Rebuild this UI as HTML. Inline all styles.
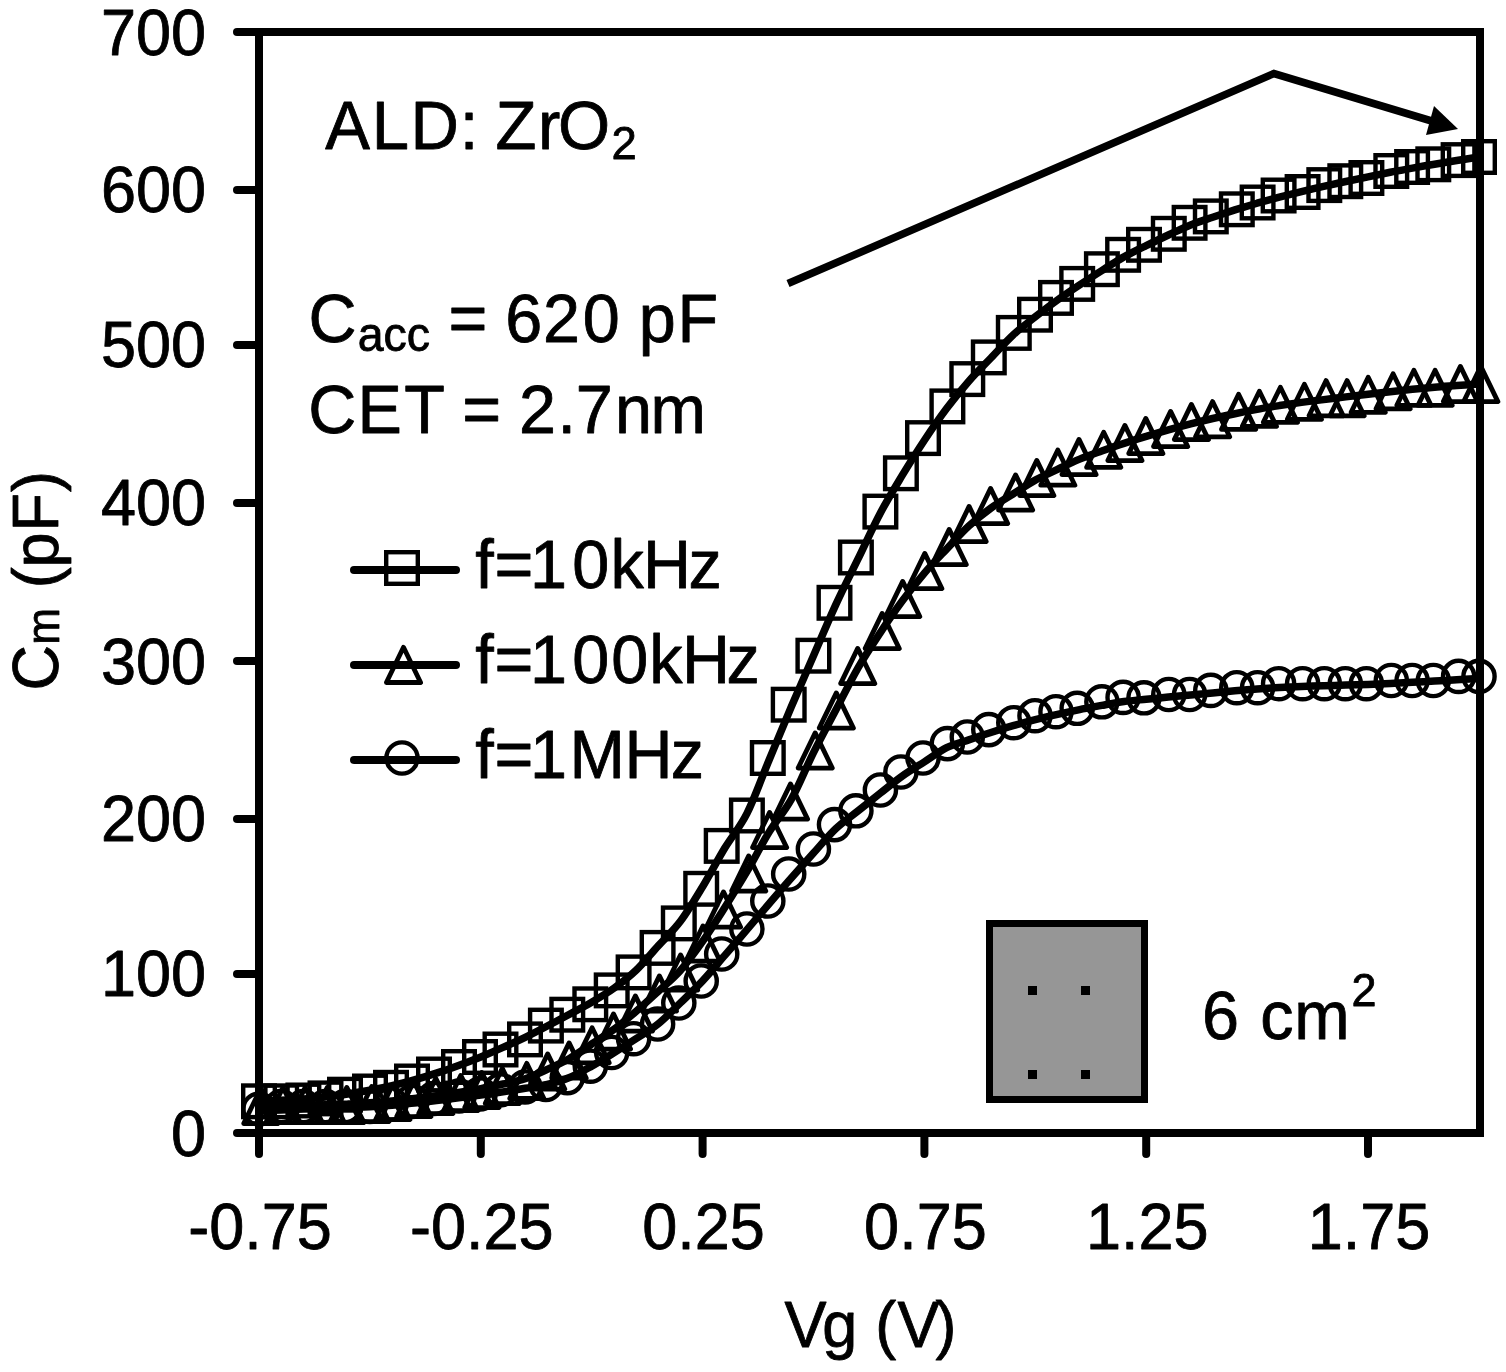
<!DOCTYPE html>
<html><head><meta charset="utf-8"><title>C-V</title>
<style>
html,body{margin:0;padding:0;background:#fff;}
svg{display:block;}
text{font-family:"Liberation Sans",Arial,sans-serif;fill:#000;stroke:#000;stroke-width:0.8;stroke-linejoin:round;}
.tk{stroke:#000;stroke-width:8;stroke-linecap:round;}
.tk2{stroke:#000;stroke-width:7;stroke-linecap:round;}
.ln{fill:none;stroke:#000;stroke-width:7.5;stroke-linejoin:round;}
.mk{fill:none;stroke:#000;stroke-width:4.4;}
.tri{stroke-width:4.8;stroke-linejoin:round;}
</style></head>
<body>
<svg width="1506" height="1372" viewBox="0 0 1506 1372">
<rect width="1506" height="1372" fill="#fff"/>
<rect x="259.0" y="32.0" width="1221.0" height="1101.0" fill="none" stroke="#000" stroke-width="8"/>
<line x1="237" y1="1133.0" x2="259.0" y2="1133.0" class="tk"/>
<line x1="237" y1="973.9" x2="259.0" y2="973.9" class="tk"/>
<line x1="237" y1="818.9" x2="259.0" y2="818.9" class="tk"/>
<line x1="237" y1="661.0" x2="259.0" y2="661.0" class="tk"/>
<line x1="237" y1="502.9" x2="259.0" y2="502.9" class="tk"/>
<line x1="237" y1="344.9" x2="259.0" y2="344.9" class="tk"/>
<line x1="237" y1="189.9" x2="259.0" y2="189.9" class="tk"/>
<line x1="237" y1="32.0" x2="259.0" y2="32.0" class="tk"/>
<line x1="259.0" y1="1133.0" x2="259.0" y2="1154" class="tk"/>
<line x1="480.8" y1="1133.0" x2="480.8" y2="1154" class="tk"/>
<line x1="702.6" y1="1133.0" x2="702.6" y2="1154" class="tk"/>
<line x1="924.4" y1="1133.0" x2="924.4" y2="1154" class="tk"/>
<line x1="1146.2" y1="1133.0" x2="1146.2" y2="1154" class="tk"/>
<line x1="1368.0" y1="1133.0" x2="1368.0" y2="1154" class="tk"/>
<path class="ln" d="M259.0,1101.3 C262.7,1101.1 273.8,1100.7 281.2,1100.3 C288.6,1100.0 296.0,1099.6 303.4,1099.0 C310.8,1098.4 318.1,1097.7 325.5,1096.9 C332.9,1096.1 340.3,1095.1 347.7,1094.0 C355.1,1092.9 362.5,1091.7 369.9,1090.3 C377.3,1088.9 384.7,1087.4 392.1,1085.7 C399.5,1084.0 406.9,1082.0 414.3,1079.9 C421.7,1077.8 429.0,1075.6 436.4,1073.1 C443.8,1070.7 451.2,1068.2 458.6,1065.4 C466.0,1062.7 473.4,1059.9 480.8,1056.9 C488.2,1053.9 495.6,1050.7 503.0,1047.4 C510.4,1044.2 517.8,1040.9 525.2,1037.3 C532.6,1033.7 539.9,1029.9 547.3,1026.0 C554.7,1022.2 562.1,1018.3 569.5,1014.3 C576.9,1010.3 584.3,1006.5 591.7,1002.2 C599.1,997.9 606.5,993.6 613.9,988.3 C621.3,983.0 628.7,977.4 636.1,970.3 C643.5,963.2 650.8,954.0 658.2,945.9 C665.6,937.7 673.0,931.2 680.4,921.3 C687.8,911.4 695.2,898.9 702.6,886.7 C710.0,874.5 717.4,860.2 724.8,848.0 C732.2,835.8 739.6,828.1 747.0,813.4 C754.4,798.7 761.7,777.8 769.1,760.0 C776.5,742.3 783.9,724.2 791.3,706.8 C798.7,689.4 806.1,672.8 813.5,655.8 C820.9,638.8 828.3,621.0 835.7,604.9 C843.1,588.8 850.5,574.4 857.9,559.2 C865.3,544.0 872.6,527.7 880.0,513.7 C887.4,499.7 894.8,487.7 902.2,475.4 C909.6,463.2 917.0,451.4 924.4,440.2 C931.8,429.1 939.2,418.3 946.6,408.5 C954.0,398.7 961.4,389.6 968.8,381.2 C976.2,372.8 983.5,365.7 990.9,358.0 C998.3,350.3 1005.7,341.9 1013.1,335.0 C1020.5,328.1 1027.9,322.6 1035.3,316.8 C1042.7,311.0 1050.1,305.3 1057.5,300.0 C1064.9,294.7 1072.3,289.8 1079.7,284.9 C1087.1,280.0 1094.4,275.2 1101.8,270.6 C1109.2,265.9 1116.6,261.0 1124.0,256.9 C1131.4,252.8 1138.8,249.3 1146.2,245.7 C1153.6,242.0 1161.0,238.5 1168.4,235.0 C1175.8,231.6 1183.2,227.9 1190.6,224.9 C1198.0,221.9 1205.3,219.7 1212.7,217.2 C1220.1,214.7 1227.5,212.3 1234.9,209.9 C1242.3,207.6 1249.7,205.4 1257.1,203.2 C1264.5,201.1 1271.9,199.1 1279.3,197.1 C1286.7,195.2 1294.1,193.4 1301.5,191.6 C1308.9,189.8 1316.2,188.1 1323.6,186.4 C1331.0,184.7 1338.4,183.1 1345.8,181.5 C1353.2,179.9 1360.6,178.3 1368.0,176.8 C1375.4,175.3 1382.8,173.8 1390.2,172.3 C1397.6,170.9 1405.0,169.4 1412.4,168.1 C1419.8,166.7 1427.1,165.4 1434.5,164.2 C1441.9,162.9 1449.3,161.7 1456.7,160.5 C1464.1,159.3 1475.2,157.6 1478.9,157.0"/>
<g class="mk"><rect x="243.2" y="1085.5" width="31.6" height="31.6"/><rect x="265.4" y="1085.5" width="31.6" height="31.6"/><rect x="287.6" y="1084.7" width="31.6" height="31.6"/><rect x="309.7" y="1082.6" width="31.6" height="31.6"/><rect x="329.2" y="1078.9" width="31.6" height="31.6"/><rect x="354.2" y="1075.7" width="31.6" height="31.6"/><rect x="375.2" y="1072.0" width="31.6" height="31.6"/><rect x="396.2" y="1065.7" width="31.6" height="31.6"/><rect x="418.2" y="1058.7" width="31.6" height="31.6"/><rect x="443.2" y="1051.2" width="31.6" height="31.6"/><rect x="464.2" y="1041.2" width="31.6" height="31.6"/><rect x="484.7" y="1033.7" width="31.6" height="31.6"/><rect x="509.2" y="1023.6" width="31.6" height="31.6"/><rect x="530.1" y="1009.8" width="31.6" height="31.6"/><rect x="551.5" y="998.9" width="31.6" height="31.6"/><rect x="574.5" y="988.5" width="31.6" height="31.6"/><rect x="595.9" y="974.6" width="31.6" height="31.6"/><rect x="617.8" y="956.6" width="31.6" height="31.6"/><rect x="641.8" y="932.1" width="31.6" height="31.6"/><rect x="663.0" y="907.6" width="31.6" height="31.6"/><rect x="685.4" y="873.0" width="31.6" height="31.6"/><rect x="705.9" y="830.1" width="31.6" height="31.6"/><rect x="731.1" y="799.7" width="31.6" height="31.6"/><rect x="752.0" y="742.2" width="31.6" height="31.6"/><rect x="772.9" y="688.9" width="31.6" height="31.6"/><rect x="797.6" y="639.9" width="31.6" height="31.6"/><rect x="818.7" y="587.0" width="31.6" height="31.6"/><rect x="840.1" y="541.7" width="31.6" height="31.6"/><rect x="864.6" y="495.8" width="31.6" height="31.6"/><rect x="885.1" y="457.5" width="31.6" height="31.6"/><rect x="907.2" y="422.3" width="31.6" height="31.6"/><rect x="931.6" y="390.6" width="31.6" height="31.6"/><rect x="951.5" y="363.3" width="31.6" height="31.6"/><rect x="973.0" y="341.6" width="31.6" height="31.6"/><rect x="998.0" y="317.1" width="31.6" height="31.6"/><rect x="1019.2" y="298.9" width="31.6" height="31.6"/><rect x="1040.2" y="282.1" width="31.6" height="31.6"/><rect x="1061.4" y="268.1" width="31.6" height="31.6"/><rect x="1086.1" y="253.4" width="31.6" height="31.6"/><rect x="1107.3" y="239.0" width="31.6" height="31.6"/><rect x="1128.2" y="229.0" width="31.6" height="31.6"/><rect x="1153.0" y="218.0" width="31.6" height="31.6"/><rect x="1173.8" y="207.0" width="31.6" height="31.6"/><rect x="1195.0" y="200.6" width="31.6" height="31.6"/><rect x="1221.0" y="193.5" width="31.6" height="31.6"/><rect x="1241.8" y="186.7" width="31.6" height="31.6"/><rect x="1262.8" y="179.7" width="31.6" height="31.6"/><rect x="1286.8" y="176.2" width="31.6" height="31.6"/><rect x="1308.5" y="169.3" width="31.6" height="31.6"/><rect x="1329.5" y="165.4" width="31.6" height="31.6"/><rect x="1350.6" y="162.2" width="31.6" height="31.6"/><rect x="1375.5" y="155.2" width="31.6" height="31.6"/><rect x="1396.3" y="151.2" width="31.6" height="31.6"/><rect x="1417.5" y="148.5" width="31.6" height="31.6"/><rect x="1442.8" y="144.3" width="31.6" height="31.6"/><rect x="1463.2" y="141.2" width="31.6" height="31.6"/></g>
<path class="ln" d="M259.0,1106.0 C262.7,1105.9 273.8,1105.7 281.2,1105.6 C288.6,1105.4 296.0,1105.3 303.4,1105.1 C310.8,1105.0 318.1,1104.9 325.5,1104.7 C332.9,1104.5 340.3,1104.3 347.7,1104.0 C355.1,1103.6 362.5,1103.3 369.9,1102.7 C377.3,1102.2 384.7,1101.6 392.1,1100.9 C399.5,1100.2 406.9,1099.4 414.3,1098.6 C421.7,1097.7 429.0,1096.8 436.4,1095.7 C443.8,1094.7 451.2,1093.7 458.6,1092.5 C466.0,1091.3 473.4,1090.0 480.8,1088.6 C488.2,1087.2 495.6,1085.6 503.0,1084.0 C510.4,1082.4 517.8,1081.2 525.2,1078.8 C532.6,1076.4 539.9,1072.8 547.3,1069.4 C554.7,1066.0 562.1,1062.6 569.5,1058.4 C576.9,1054.2 584.3,1048.9 591.7,1044.0 C599.1,1039.2 606.5,1034.8 613.9,1029.4 C621.3,1024.0 628.7,1017.7 636.1,1011.4 C643.5,1005.1 650.8,998.2 658.2,991.4 C665.6,984.6 673.0,978.7 680.4,970.4 C687.8,962.1 695.2,951.9 702.6,941.4 C710.0,930.9 717.4,919.1 724.8,907.4 C732.2,895.7 739.6,883.9 747.0,871.4 C754.4,858.9 761.7,844.1 769.1,832.1 C776.5,820.1 783.9,812.6 791.3,799.4 C798.7,786.1 806.1,767.4 813.5,752.6 C820.9,737.8 828.3,724.4 835.7,710.3 C843.1,696.2 850.5,681.0 857.9,668.1 C865.3,655.2 872.6,644.3 880.0,633.1 C887.4,621.9 894.8,611.1 902.2,601.1 C909.6,591.1 917.0,581.8 924.4,573.1 C931.8,564.4 939.2,556.9 946.6,549.1 C954.0,541.3 961.4,532.9 968.8,526.1 C976.2,519.3 983.5,513.5 990.9,508.1 C998.3,502.7 1005.7,498.6 1013.1,494.0 C1020.5,489.3 1027.9,484.2 1035.3,480.1 C1042.7,476.0 1050.1,472.9 1057.5,469.4 C1064.9,465.9 1072.3,462.2 1079.7,459.1 C1087.1,456.0 1094.4,453.6 1101.8,451.0 C1109.2,448.4 1116.6,445.8 1124.0,443.4 C1131.4,441.0 1138.8,438.6 1146.2,436.4 C1153.6,434.1 1161.0,432.0 1168.4,429.9 C1175.8,427.8 1183.2,425.8 1190.6,423.9 C1198.0,422.0 1205.3,420.2 1212.7,418.5 C1220.1,416.8 1227.5,415.2 1234.9,413.7 C1242.3,412.1 1249.7,410.7 1257.1,409.4 C1264.5,408.0 1271.9,406.8 1279.3,405.6 C1286.7,404.5 1294.1,403.4 1301.5,402.4 C1308.9,401.4 1316.2,400.5 1323.6,399.6 C1331.0,398.7 1338.4,397.8 1345.8,396.9 C1353.2,396.1 1360.6,395.2 1368.0,394.3 C1375.4,393.5 1382.8,392.6 1390.2,391.8 C1397.6,390.9 1405.0,390.1 1412.4,389.3 C1419.8,388.6 1427.1,387.9 1434.5,387.3 C1441.9,386.6 1449.3,386.1 1456.7,385.5 C1464.1,385.0 1475.2,384.3 1478.9,384.0"/>
<g class="mk"><path class="tri" d="M260.8,1088.4L277.9,1123.6L243.7,1123.6Z"/><path class="tri" d="M283.0,1087.4L300.1,1122.6L265.9,1122.6Z"/><path class="tri" d="M305.2,1087.4L322.3,1122.6L288.1,1122.6Z"/><path class="tri" d="M327.3,1087.4L344.4,1122.6L310.2,1122.6Z"/><path class="tri" d="M346.8,1087.4L363.9,1122.6L329.7,1122.6Z"/><path class="tri" d="M371.8,1086.4L388.9,1121.6L354.7,1121.6Z"/><path class="tri" d="M392.8,1084.4L409.9,1119.6L375.7,1119.6Z"/><path class="tri" d="M413.8,1081.4L430.9,1116.6L396.7,1116.6Z"/><path class="tri" d="M435.8,1078.4L452.9,1113.6L418.7,1113.6Z"/><path class="tri" d="M460.8,1075.4L477.9,1110.6L443.7,1110.6Z"/><path class="tri" d="M481.8,1072.4L498.9,1107.6L464.7,1107.6Z"/><path class="tri" d="M502.3,1068.4L519.4,1103.6L485.2,1103.6Z"/><path class="tri" d="M526.8,1063.3L543.9,1098.5L509.7,1098.5Z"/><path class="tri" d="M547.7,1053.9L564.8,1089.1L530.6,1089.1Z"/><path class="tri" d="M569.1,1042.9L586.2,1078.1L552.0,1078.1Z"/><path class="tri" d="M592.1,1027.7L609.2,1062.9L575.0,1062.9Z"/><path class="tri" d="M613.5,1013.9L630.6,1049.1L596.4,1049.1Z"/><path class="tri" d="M635.4,995.9L652.5,1031.1L618.3,1031.1Z"/><path class="tri" d="M659.4,975.9L676.5,1011.1L642.3,1011.1Z"/><path class="tri" d="M680.6,954.9L697.7,990.1L663.5,990.1Z"/><path class="tri" d="M703.0,925.9L720.1,961.1L685.9,961.1Z"/><path class="tri" d="M723.5,891.9L740.6,927.1L706.4,927.1Z"/><path class="tri" d="M748.7,855.9L765.8,891.1L731.6,891.1Z"/><path class="tri" d="M769.6,812.4L786.7,847.6L752.5,847.6Z"/><path class="tri" d="M790.5,783.9L807.6,819.1L773.4,819.1Z"/><path class="tri" d="M815.2,732.9L832.3,768.1L798.1,768.1Z"/><path class="tri" d="M836.3,692.9L853.4,728.1L819.2,728.1Z"/><path class="tri" d="M857.7,648.4L874.8,683.6L840.6,683.6Z"/><path class="tri" d="M882.2,613.4L899.3,648.6L865.1,648.6Z"/><path class="tri" d="M902.7,581.4L919.8,616.6L885.6,616.6Z"/><path class="tri" d="M924.8,553.4L941.9,588.6L907.7,588.6Z"/><path class="tri" d="M949.2,529.4L966.3,564.6L932.1,564.6Z"/><path class="tri" d="M969.1,506.4L986.2,541.6L952.0,541.6Z"/><path class="tri" d="M990.6,488.4L1007.7,523.6L973.5,523.6Z"/><path class="tri" d="M1015.6,474.9L1032.7,510.1L998.5,510.1Z"/><path class="tri" d="M1036.8,460.4L1053.9,495.6L1019.7,495.6Z"/><path class="tri" d="M1057.8,450.0L1074.9,485.2L1040.7,485.2Z"/><path class="tri" d="M1079.0,439.4L1096.1,474.6L1061.9,474.6Z"/><path class="tri" d="M1103.7,432.2L1120.8,467.4L1086.6,467.4Z"/><path class="tri" d="M1124.9,425.4L1142.0,460.6L1107.8,460.6Z"/><path class="tri" d="M1145.8,418.4L1162.9,453.6L1128.7,453.6Z"/><path class="tri" d="M1170.6,411.4L1187.7,446.6L1153.5,446.6Z"/><path class="tri" d="M1191.4,404.4L1208.5,439.6L1174.3,439.6Z"/><path class="tri" d="M1212.6,401.6L1229.7,436.8L1195.5,436.8Z"/><path class="tri" d="M1238.6,394.2L1255.7,429.4L1221.5,429.4Z"/><path class="tri" d="M1259.4,391.2L1276.5,426.4L1242.3,426.4Z"/><path class="tri" d="M1280.4,387.2L1297.5,422.4L1263.3,422.4Z"/><path class="tri" d="M1304.4,384.2L1321.5,419.4L1287.3,419.4Z"/><path class="tri" d="M1326.1,380.6L1343.2,415.8L1309.0,415.8Z"/><path class="tri" d="M1347.1,380.6L1364.2,415.8L1330.0,415.8Z"/><path class="tri" d="M1368.2,377.2L1385.3,412.4L1351.1,412.4Z"/><path class="tri" d="M1393.1,373.7L1410.2,408.9L1376.0,408.9Z"/><path class="tri" d="M1413.9,370.2L1431.0,405.4L1396.8,405.4Z"/><path class="tri" d="M1435.1,370.2L1452.2,405.4L1418.0,405.4Z"/><path class="tri" d="M1460.4,366.4L1477.5,401.6L1443.3,401.6Z"/><path class="tri" d="M1480.8,366.4L1497.9,401.6L1463.7,401.6Z"/></g>
<path class="ln" d="M259.0,1111.0 C262.7,1110.8 273.8,1110.3 281.2,1109.9 C288.6,1109.6 296.0,1109.4 303.4,1109.1 C310.8,1108.9 318.1,1108.7 325.5,1108.5 C332.9,1108.3 340.3,1108.1 347.7,1107.8 C355.1,1107.5 362.5,1107.2 369.9,1106.8 C377.3,1106.3 384.7,1105.8 392.1,1105.2 C399.5,1104.6 406.9,1103.8 414.3,1103.1 C421.7,1102.3 429.0,1101.5 436.4,1100.6 C443.8,1099.8 451.2,1098.9 458.6,1097.9 C466.0,1097.0 473.4,1096.1 480.8,1095.1 C488.2,1094.0 495.6,1093.0 503.0,1091.9 C510.4,1090.7 517.8,1089.5 525.2,1088.3 C532.6,1087.0 539.9,1086.2 547.3,1084.4 C554.7,1082.6 562.1,1080.5 569.5,1077.5 C576.9,1074.5 584.3,1070.2 591.7,1066.1 C599.1,1062.0 606.5,1057.3 613.9,1052.8 C621.3,1048.2 628.7,1043.5 636.1,1038.7 C643.5,1033.9 650.8,1029.9 658.2,1023.9 C665.6,1017.9 673.0,1010.1 680.4,1002.9 C687.8,995.7 695.2,988.8 702.6,980.9 C710.0,973.0 717.4,963.9 724.8,955.4 C732.2,946.9 739.6,938.2 747.0,929.6 C754.4,921.0 761.7,912.3 769.1,903.7 C776.5,895.1 783.9,886.4 791.3,878.0 C798.7,869.6 806.1,861.3 813.5,853.1 C820.9,844.8 828.3,835.7 835.7,828.7 C843.1,821.7 850.5,816.9 857.9,811.0 C865.3,805.1 872.6,799.3 880.0,793.4 C887.4,787.6 894.8,781.4 902.2,776.1 C909.6,770.8 917.0,766.5 924.4,761.8 C931.8,757.1 939.2,751.4 946.6,747.7 C954.0,744.0 961.4,742.4 968.8,739.9 C976.2,737.3 983.5,734.8 990.9,732.5 C998.3,730.1 1005.7,727.8 1013.1,725.7 C1020.5,723.6 1027.9,721.6 1035.3,719.7 C1042.7,717.8 1050.1,716.1 1057.5,714.4 C1064.9,712.7 1072.3,711.1 1079.7,709.6 C1087.1,708.1 1094.4,706.8 1101.8,705.4 C1109.2,704.0 1116.6,702.5 1124.0,701.5 C1131.4,700.5 1138.8,700.0 1146.2,699.3 C1153.6,698.6 1161.0,697.8 1168.4,697.1 C1175.8,696.4 1183.2,695.7 1190.6,695.0 C1198.0,694.3 1205.3,693.6 1212.7,692.9 C1220.1,692.2 1227.5,691.5 1234.9,690.8 C1242.3,690.2 1249.7,689.5 1257.1,689.0 C1264.5,688.4 1271.9,687.9 1279.3,687.5 C1286.7,687.1 1294.1,686.8 1301.5,686.5 C1308.9,686.2 1316.2,686.0 1323.6,685.8 C1331.0,685.5 1338.4,685.4 1345.8,685.1 C1353.2,684.9 1360.6,684.7 1368.0,684.4 C1375.4,684.1 1382.8,683.8 1390.2,683.4 C1397.6,683.1 1405.0,682.7 1412.4,682.3 C1419.8,681.9 1427.1,681.5 1434.5,681.1 C1441.9,680.6 1449.3,680.2 1456.7,679.7 C1464.1,679.3 1475.2,678.6 1478.9,678.4"/>
<g class="mk"><circle cx="259.0" cy="1109.0" r="15.6"/><circle cx="281.2" cy="1106.5" r="15.6"/><circle cx="303.4" cy="1106.5" r="15.6"/><circle cx="325.5" cy="1106.5" r="15.6"/><circle cx="345.0" cy="1106.5" r="15.6"/><circle cx="370.0" cy="1106.5" r="15.6"/><circle cx="391.0" cy="1104.0" r="15.6"/><circle cx="412.0" cy="1101.5" r="15.6"/><circle cx="434.0" cy="1098.5" r="15.6"/><circle cx="459.0" cy="1096.0" r="15.6"/><circle cx="480.0" cy="1094.0" r="15.6"/><circle cx="500.5" cy="1090.0" r="15.6"/><circle cx="525.0" cy="1087.0" r="15.6"/><circle cx="545.9" cy="1084.5" r="15.6"/><circle cx="567.3" cy="1077.6" r="15.6"/><circle cx="590.3" cy="1066.2" r="15.6"/><circle cx="611.7" cy="1052.5" r="15.6"/><circle cx="633.6" cy="1038.7" r="15.6"/><circle cx="657.6" cy="1024.0" r="15.6"/><circle cx="678.8" cy="1003.0" r="15.6"/><circle cx="701.2" cy="981.0" r="15.6"/><circle cx="721.7" cy="954.0" r="15.6"/><circle cx="746.9" cy="929.0" r="15.6"/><circle cx="767.8" cy="901.0" r="15.6"/><circle cx="788.7" cy="874.0" r="15.6"/><circle cx="813.4" cy="849.0" r="15.6"/><circle cx="834.5" cy="824.6" r="15.6"/><circle cx="855.9" cy="810.8" r="15.6"/><circle cx="880.4" cy="790.0" r="15.6"/><circle cx="900.9" cy="772.0" r="15.6"/><circle cx="923.0" cy="758.0" r="15.6"/><circle cx="947.4" cy="743.6" r="15.6"/><circle cx="967.3" cy="737.0" r="15.6"/><circle cx="988.8" cy="729.6" r="15.6"/><circle cx="1013.8" cy="722.7" r="15.6"/><circle cx="1035.0" cy="715.7" r="15.6"/><circle cx="1056.0" cy="711.7" r="15.6"/><circle cx="1077.2" cy="708.3" r="15.6"/><circle cx="1101.9" cy="701.8" r="15.6"/><circle cx="1123.1" cy="697.4" r="15.6"/><circle cx="1144.0" cy="697.8" r="15.6"/><circle cx="1168.8" cy="694.5" r="15.6"/><circle cx="1189.6" cy="694.5" r="15.6"/><circle cx="1210.8" cy="690.4" r="15.6"/><circle cx="1236.8" cy="687.7" r="15.6"/><circle cx="1257.6" cy="687.7" r="15.6"/><circle cx="1278.6" cy="683.7" r="15.6"/><circle cx="1302.6" cy="683.7" r="15.6"/><circle cx="1324.3" cy="683.7" r="15.6"/><circle cx="1345.3" cy="683.7" r="15.6"/><circle cx="1366.4" cy="683.7" r="15.6"/><circle cx="1391.3" cy="680.5" r="15.6"/><circle cx="1412.1" cy="680.5" r="15.6"/><circle cx="1433.3" cy="680.5" r="15.6"/><circle cx="1458.6" cy="676.4" r="15.6"/><circle cx="1479.0" cy="676.4" r="15.6"/></g>

<g transform="translate(0,1155.5) scale(1,1.030)"><text x="206.0" y="0" font-size="63.0" text-anchor="end">0</text></g>
<g transform="translate(0,996.4) scale(1,1.030)"><text x="206.0" y="0" font-size="63.0" text-anchor="end">100</text></g>
<g transform="translate(0,841.4) scale(1,1.030)"><text x="206.0" y="0" font-size="63.0" text-anchor="end">200</text></g>
<g transform="translate(0,683.5) scale(1,1.030)"><text x="206.0" y="0" font-size="63.0" text-anchor="end">300</text></g>
<g transform="translate(0,525.4) scale(1,1.030)"><text x="206.0" y="0" font-size="63.0" text-anchor="end">400</text></g>
<g transform="translate(0,367.4) scale(1,1.030)"><text x="206.0" y="0" font-size="63.0" text-anchor="end">500</text></g>
<g transform="translate(0,212.4) scale(1,1.030)"><text x="206.0" y="0" font-size="63.0" text-anchor="end">600</text></g>
<g transform="translate(0,54.5) scale(1,1.030)"><text x="206.0" y="0" font-size="63.0" text-anchor="end">700</text></g>
<g transform="translate(0,1249.2) scale(1,1.030)"><text x="260.0" y="0" font-size="63.0" text-anchor="middle">-0.75</text></g>
<g transform="translate(0,1249.2) scale(1,1.030)"><text x="481.8" y="0" font-size="63.0" text-anchor="middle">-0.25</text></g>
<g transform="translate(0,1249.2) scale(1,1.030)"><text x="703.6" y="0" font-size="63.0" text-anchor="middle">0.25</text></g>
<g transform="translate(0,1249.2) scale(1,1.030)"><text x="925.4" y="0" font-size="63.0" text-anchor="middle">0.75</text></g>
<g transform="translate(0,1249.2) scale(1,1.030)"><text x="1147.2" y="0" font-size="63.0" text-anchor="middle">1.25</text></g>
<g transform="translate(0,1249.2) scale(1,1.030)"><text x="1369.0" y="0" font-size="63.0" text-anchor="middle">1.75</text></g>
<g transform="translate(0,148.8) scale(1,1.030)"><text x="325.2 371.7 410.6 459.7 478.4 495.4 538.1 557.9" y="0" font-size="67.0">ALD: ZrO</text></g>
<g transform="translate(0,158.8) scale(1,1.030)"><text x="611.4" y="0" font-size="45.5">2</text></g>
<g transform="translate(0,342.3) scale(1,1.030)"><text x="308.5" y="0" font-size="66.5">C</text></g>
<g transform="translate(0,350.6) scale(1,1.030)"><text x="357.7" y="0" font-size="46.5" text-anchor="start">acc</text></g>
<g transform="translate(0,342.3) scale(1,1.030)"><text x="448.4 487.3 505.2 543.1 582.7 619.7 638.8 677.5" y="0" font-size="66.5">= 620 pF</text></g>
<g transform="translate(0,432.8) scale(1,1.030)"><text x="308.3 357.5 404.2 444.8 462.3 501.2 519.0 557.6 575.8 615.0 650.4" y="0" font-size="66.5">CET = 2.7nm</text></g>
<g transform="translate(0,587.8) scale(1,1.030)"><text x="475.2 494.6 530.0 572.2 610.4 643.0 688.5" y="0" font-size="66.5">f=10kHz</text></g>
<g transform="translate(0,682.8) scale(1,1.030)"><text x="475.2 494.6 530.0 572.2 611.2 649.2 682.0 726.6" y="0" font-size="66.5">f=100kHz</text></g>
<g transform="translate(0,777.8) scale(1,1.030)"><text x="475.2 494.6 530.0 569.5 624.5 670.8" y="0" font-size="66.5">f=1MHz</text></g>
<g transform="translate(0,1038.5) scale(1,1.030)"><text x="1202.1 1239.1 1260.2 1294.2" y="0" font-size="66.5">6 cm</text></g>
<g transform="translate(0,1006.0) scale(1,1.030)"><text x="1351.6" y="0" font-size="45.0">2</text></g>
<g transform="translate(0,1346.7) scale(1,1.030)"><text x="784.4 822.3 857.3 875.3 897.5 935.6" y="0" font-size="63.0">Vg (V)</text></g>
<g transform="translate(57.8,0) rotate(-90)"><g transform="translate(0,0.0) scale(1,1.030)"><text x="-690.6" y="0" font-size="63.0">C</text></g><g transform="translate(0,0.9) scale(1,1.030)"><text x="-644.7 -608.0" y="0" font-size="44.0">m </text></g><g transform="translate(0,0.0) scale(1,1.030)"><text x="-588.3 -567.5 -531.6 -491.9" y="0" font-size="63.0">(pF)</text></g></g>
<path d="M788,283.6 L1274,73.5 L1440,123.5" fill="none" stroke="#000" stroke-width="7.6" stroke-linejoin="miter"/>
<path d="M1458,129 L1434,106 L1426,135 Z" fill="#000"/>
<line x1="354" y1="570" x2="456" y2="570" stroke="#000" stroke-width="8" stroke-linecap="round"/>
<rect x="386.2" y="552.2" width="31.6" height="31.6" class="mk"/>
<line x1="354" y1="665" x2="456" y2="665" stroke="#000" stroke-width="8" stroke-linecap="round"/>
<path d="M403.5,647.3 L420.6,682.5 L386.4,682.5 Z" class="mk tri"/>
<line x1="354" y1="760" x2="456" y2="760" stroke="#000" stroke-width="8" stroke-linecap="round"/>
<circle cx="402" cy="758" r="15.6" class="mk"/>
<rect x="989.5" y="923.5" width="155" height="176" fill="#969696" stroke="#000" stroke-width="7"/>
<rect x="1028" y="986" width="9" height="9" fill="#000"/>
<rect x="1081" y="986" width="9" height="9" fill="#000"/>
<rect x="1028" y="1070" width="9" height="9" fill="#000"/>
<rect x="1081" y="1070" width="9" height="9" fill="#000"/>
</svg>
</body></html>
